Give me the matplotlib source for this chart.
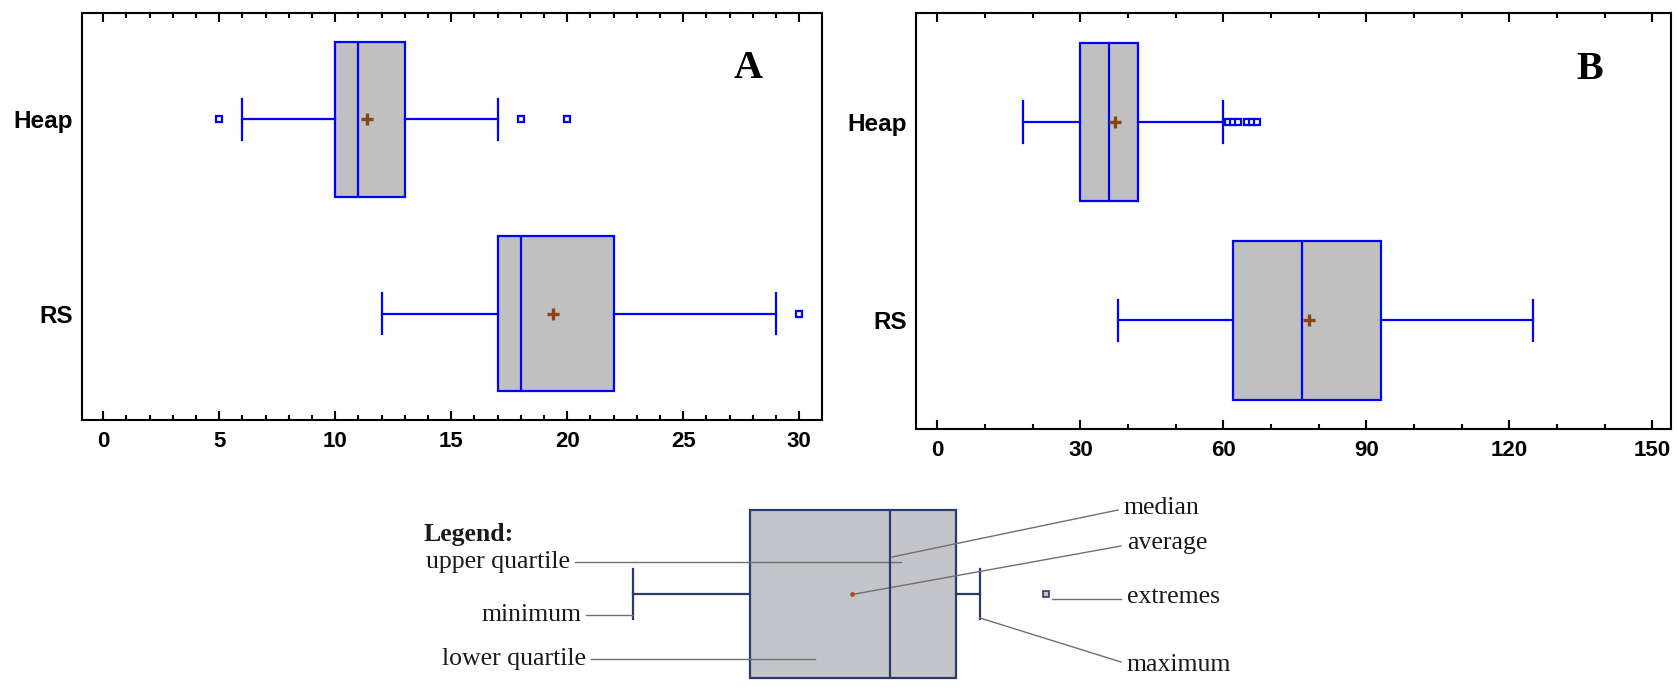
import matplotlib
matplotlib.use('Agg')
import matplotlib.pyplot as plt
from matplotlib.ticker import MultipleLocator

groups = ['RS', 'Heap']

# panel A
a_min = [12, 6]
a_q1 = [17, 10]
a_med = [18, 11]
a_q3 = [22, 13]
a_max = [29, 17]
a_mean = [19.4, 11.35]
a_out = [[30], [5, 18, 20]]

# panel B
b_min = [38, 18]
b_q1 = [62, 30]
b_med = [76.5, 36]
b_q3 = [93, 42]
b_max = [125, 60]
b_mean = [78, 37.2]
b_out = [[], [61, 62, 63, 65, 66, 67]]

# legend sketch, arbitrary units
leg_lo, leg_q1, leg_med, leg_q3, leg_hi, leg_mean = 633, 750, 890, 956, 980, 852
leg_out = [1046]

BLUE = '#0000FF'
BROWN = '#8B4513'


def make_stats(lo, q1, med, q3, hi, mean, out):
    return [dict(label=g, whislo=lo[i], q1=q1[i], med=med[i], q3=q3[i],
                 whishi=hi[i], mean=mean[i], fliers=out[i])
            for i, g in enumerate(groups)]


def draw_panel(ax, stats, xlim, major, minor, letter, lx):
    ax.bxp(stats, positions=[1, 2], widths=0.8, capwidths=0.21,
           orientation='horizontal', patch_artist=True, showmeans=True,
           boxprops=dict(facecolor='#C0C0C0', edgecolor=BLUE, linewidth=1.6),
           whiskerprops=dict(color=BLUE, linewidth=1.6),
           capprops=dict(color=BLUE, linewidth=1.6),
           medianprops=dict(color=BLUE, linewidth=1.6),
           meanprops=dict(marker='+', markeredgecolor=BROWN, markersize=8,
                          markeredgewidth=2.4),
           flierprops=dict(marker='s', markerfacecolor='white',
                           markeredgecolor=BLUE, markersize=5,
                           markeredgewidth=1.6))
    ax.set_xlim(*xlim)
    ax.set_ylim(0.45, 2.55)
    ax.xaxis.set_major_locator(MultipleLocator(major))
    ax.xaxis.set_minor_locator(MultipleLocator(minor))
    ax.tick_params(axis='x', which='both', direction='in', top=True,
                   bottom=True, width=1.5, pad=8, labelsize=16)
    ax.tick_params(axis='x', which='major', length=6.5)
    ax.tick_params(axis='x', which='minor', length=3.5)
    ax.tick_params(axis='y', length=0, pad=6, labelsize=17.5)
    for lab in ax.get_xticklabels() + ax.get_yticklabels():
        lab.set_fontweight('bold')
        lab.set_family('Liberation Sans')
    for sp in ax.spines.values():
        sp.set_linewidth(1.5)
    ax.text(lx, 0.864, letter, transform=ax.transAxes, fontsize=29,
            fontweight='bold', family='Liberation Serif',
            ha='center', va='center')


fig = plt.figure(figsize=(16.77, 6.95), dpi=100)

axA = fig.add_axes([81.7 / 1677, 1 - 420.3 / 695, 740 / 1677, 407.6 / 695])
draw_panel(axA, make_stats(a_min, a_q1, a_med, a_q3, a_max, a_mean, a_out),
           (-0.93, 30.97), 5, 1, 'A', 0.90)

axB = fig.add_axes([915.7 / 1677, 1 - 429.3 / 695, 755.3 / 1677, 416 / 695])
draw_panel(axB, make_stats(b_min, b_q1, b_med, b_q3, b_max, b_mean, b_out),
           (-4.53, 153.9), 30, 10, 'B', 0.893)

# legend sketch at the bottom
axL = fig.add_axes([380 / 1677, 0, 870 / 1677, 215 / 695])
axL.set_xlim(380, 1250)
axL.set_ylim(695, 480)
axL.axis('off')
NAVY = '#2B3A6B'
axL.bxp([dict(whislo=leg_lo, q1=leg_q1, med=leg_med, q3=leg_q3,
              whishi=leg_hi, mean=leg_mean, fliers=leg_out)],
        positions=[594], widths=168, capwidths=50,
        orientation='horizontal', patch_artist=True, showmeans=True,
        boxprops=dict(facecolor='#C4C5CA', edgecolor=NAVY, linewidth=1.6),
        whiskerprops=dict(color=NAVY, linewidth=1.6),
        capprops=dict(color=NAVY, linewidth=1.6),
        medianprops=dict(color=NAVY, linewidth=1.6),
        meanprops=dict(marker='o', markerfacecolor='#B0502A',
                       markeredgecolor='#B0502A', markersize=2.5),
        flierprops=dict(marker='s', markerfacecolor='#C4C5CA',
                        markeredgecolor=NAVY, markersize=4,
                        markeredgewidth=1.2))

leaders = [
    (575, 562, 901, 562),
    (892, 557, 1118, 510),
    (855, 594, 1121, 546),
    (1052, 599, 1121, 599),
    (980, 618, 1121, 662),
    (586, 615, 633, 615),
    (591, 659, 815, 659),
]
for x0, y0, x1, y1 in leaders:
    axL.plot([x0, x1], [y0, y1], color='#707070', linewidth=1.0)

labels = [
    ('upper quartile', 570, 562, 'right'),
    ('median', 1124, 508, 'left'),
    ('average', 1127, 543, 'left'),
    ('extremes', 1127, 597, 'left'),
    ('maximum', 1127, 665, 'left'),
    ('minimum', 582, 615, 'right'),
    ('lower quartile', 586, 659, 'right'),
]
for txt, x, y, ha in labels:
    axL.text(x, y, txt, fontsize=18.5, family='Liberation Serif',
             ha=ha, va='center', color='#1a1a1a')
axL.text(424, 534, 'Legend:', fontsize=18.5, family='Liberation Serif',
         fontweight='bold', ha='left', va='center', color='#1a1a1a')

fig.savefig('out.png', dpi=100)
